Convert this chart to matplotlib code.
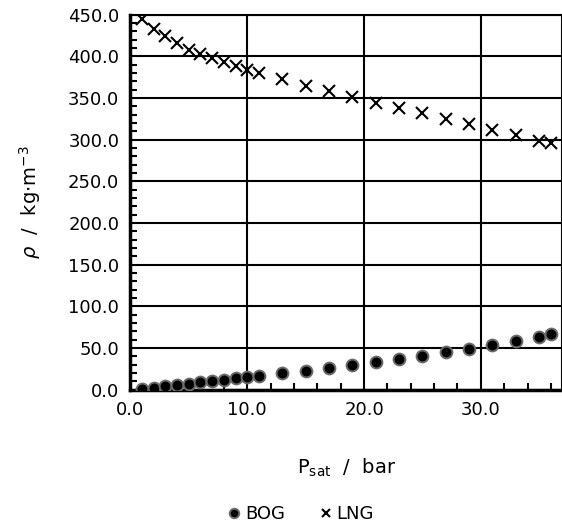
import matplotlib
matplotlib.use("Agg")
import matplotlib.pyplot as plt
from matplotlib.ticker import MultipleLocator, FormatStrFormatter

p_sat = [1, 2, 3, 4, 5, 6, 7, 8, 9, 10, 11, 13, 15, 17, 19, 21, 23, 25, 27, 29, 31, 33, 35, 36]
rho_bog = [1.0, 2.4, 4.0, 5.2, 7.0, 9.0, 10.8, 12.2, 13.6, 15.0, 16.4, 20.0, 23.0, 26.2, 29.5,
           33.0, 37.0, 41.0, 45.0, 49.5, 54.0, 58.5, 63.5, 67.0]
rho_lng = [445, 433, 424, 416, 408, 403, 398, 393, 388, 383.5, 379.5, 372.5, 365, 358, 351,
           344.5, 338, 332, 325, 319, 312, 306, 299, 296]

plt.rcParams["font.family"] = "DejaVu Sans"
fig = plt.figure(figsize=(5.62, 5.26), dpi=100)
ax = fig.add_axes([0.232, 0.259, 0.768, 0.713])

ax.plot(p_sat, rho_bog, linestyle="none", marker="o", markersize=8.5, markerfacecolor="black",
        markeredgecolor="#6a6a6a", markeredgewidth=1.4, label="BOG", zorder=3)
ax.plot(p_sat, rho_lng, linestyle="none", marker="x", markersize=8, color="black",
        markeredgewidth=1.5, label="LNG", zorder=3)

ax.set_xlim(0, 36.95)
ax.set_ylim(0, 450)
ax.xaxis.set_major_locator(MultipleLocator(10))
ax.xaxis.set_minor_locator(MultipleLocator(2))
ax.yaxis.set_major_locator(MultipleLocator(50))
ax.yaxis.set_minor_locator(MultipleLocator(10))
ax.xaxis.set_major_formatter(FormatStrFormatter("%.1f"))
ax.yaxis.set_major_formatter(FormatStrFormatter("%.1f"))
ax.tick_params(which="major", length=0, labelsize=13, pad=8)
ax.tick_params(which="minor", direction="in", length=5, width=1.5)
ax.grid(True, which="major", color="black", linewidth=1.5)
ax.set_axisbelow(True)
for s in ax.spines.values():
    s.set_linewidth(1.5)
ax.spines["left"].set_linewidth(2.5)
ax.spines["bottom"].set_linewidth(2.5)

ax.set_xlabel(r"P$_{\mathregular{sat}}$  /  bar", fontsize=14, labelpad=27)
ax.set_ylabel(r"$\it{\rho}$  /  kg$\cdot$m$^{\mathregular{-3}}$", fontsize=14, labelpad=18)

fig.legend(loc="center", bbox_to_anchor=(0.537, 0.022), ncol=2, frameon=False, fontsize=13,
           markerscale=0.8, handlelength=0.5, handletextpad=0.35, columnspacing=2.0)

fig.savefig("out.png", dpi=100)
